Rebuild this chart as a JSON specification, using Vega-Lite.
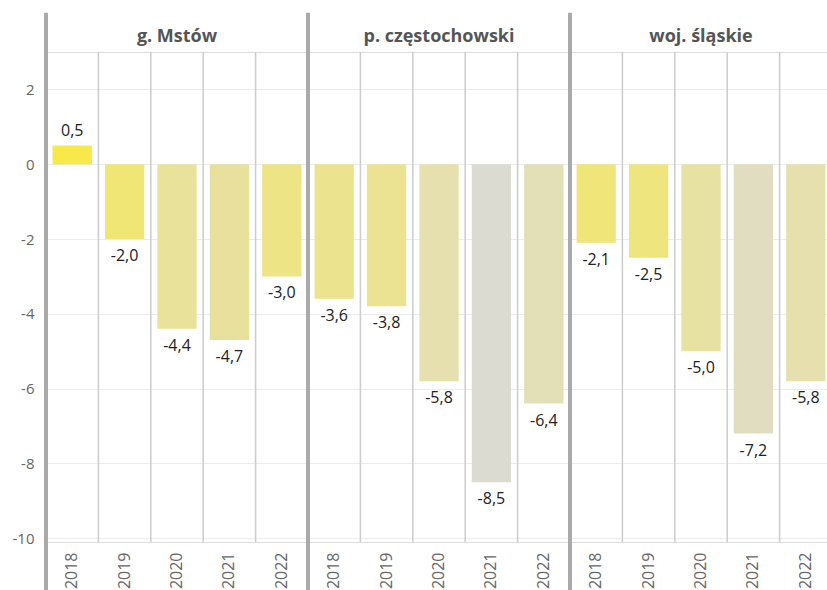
{
  "$schema": "https://vega.github.io/schema/vega-lite/v6.json",
  "padding": {"left": 12, "top": 10, "right": 0, "bottom": 0},
  "background": "white",
  "data": {"values": [
    {"region": "g. Mstów", "year": 2018, "value": 0.5},
    {"region": "g. Mstów", "year": 2019, "value": -2.0},
    {"region": "g. Mstów", "year": 2020, "value": -4.4},
    {"region": "g. Mstów", "year": 2021, "value": -4.7},
    {"region": "g. Mstów", "year": 2022, "value": -3.0},
    {"region": "p. częstochowski", "year": 2018, "value": -3.6},
    {"region": "p. częstochowski", "year": 2019, "value": -3.8},
    {"region": "p. częstochowski", "year": 2020, "value": -5.8},
    {"region": "p. częstochowski", "year": 2021, "value": -8.5},
    {"region": "p. częstochowski", "year": 2022, "value": -6.4},
    {"region": "woj. śląskie", "year": 2018, "value": -2.1},
    {"region": "woj. śląskie", "year": 2019, "value": -2.5},
    {"region": "woj. śląskie", "year": 2020, "value": -5.0},
    {"region": "woj. śląskie", "year": 2021, "value": -7.2},
    {"region": "woj. śląskie", "year": 2022, "value": -5.8}
  ]},
  "facet": {
    "column": {
      "field": "region", "type": "nominal",
      "sort": ["g. Mstów", "p. częstochowski", "woj. śląskie"],
      "header": {"title": null, "labelFontSize": 18, "labelFontWeight": "bold", "labelColor": "#555555", "labelFont": "Open Sans", "labelPadding": 6}
    }
  },
  "spacing": 0,
  "bounds": "flush",
  "spec": {
    "width": 262,
    "height": 490,
    "layer": [
      {
        "mark": {"type": "rule", "color": "#cccccc", "strokeWidth": 1.5},
        "encoding": {
          "x": {"field": "year", "type": "ordinal", "bandPosition": 0, "scale": {"paddingInner": 0, "paddingOuter": 0}}
        }
      },
      {
        "mark": {"type": "bar", "width": {"band": 0.75}},
        "encoding": {
          "x": {"field": "year", "type": "ordinal", "scale": {"paddingInner": 0, "paddingOuter": 0},
                "axis": {"title": null, "labelAngle": 270, "domain": false, "ticks": false, "labelFontSize": 16, "labelColor": "#666666", "labelPadding": 10, "grid": false}},
          "y": {"field": "value", "type": "quantitative", "scale": {"domain": [-10.1, 3], "nice": false, "zero": false},
                "axis": {"title": null, "values": [-10, -8, -6, -4, -2, 0, 2], "grid": true, "gridColor": "#ececec", "domain": false, "ticks": false, "labelFontSize": 15, "labelColor": "#666666", "labelPadding": 12}},
          "color": {"field": "value", "type": "quantitative", "scale": {"domain": [-8.5, 0.5], "range": ["#dcdbd2", "#f7e94a"]}, "legend": null}
        }
      },
      {
        "transform": [{"filter": "datum.year == 2018"}],
        "mark": {"type": "rule", "color": "#aaaaaa", "strokeWidth": 4},
        "encoding": {
          "x": {"field": "year", "type": "ordinal", "bandPosition": 0, "scale": {"paddingInner": 0, "paddingOuter": 0}},
          "y": {"datum": 4.05},
          "y2": {"datum": -11.5}
        }
      },
      {
        "transform": [{"filter": "datum.value >= 0"}],
        "mark": {"type": "text", "baseline": "alphabetic", "dy": -10, "fontSize": 16, "color": "#222222"},
        "encoding": {
          "x": {"field": "year", "type": "ordinal", "scale": {"paddingInner": 0, "paddingOuter": 0}},
          "y": {"field": "value", "type": "quantitative"},
          "text": {"field": "value", "type": "quantitative", "format": ".1f"}
        }
      },
      {
        "transform": [{"filter": "datum.value < 0"}],
        "mark": {"type": "text", "baseline": "top", "dy": 9, "fontSize": 16, "color": "#222222"},
        "encoding": {
          "x": {"field": "year", "type": "ordinal", "scale": {"paddingInner": 0, "paddingOuter": 0}},
          "y": {"field": "value", "type": "quantitative"},
          "text": {"field": "value", "type": "quantitative", "format": ".1f"}
        }
      }
    ]
  },
  "config": {
    "font": "Open Sans",
    "locale": {"number": {"decimal": ",", "thousands": " ", "grouping": [3], "currency": ["", " zł"], "minus": "-"}},
    "view": {"stroke": "#dddddd", "strokeWidth": 1}
  }
}
